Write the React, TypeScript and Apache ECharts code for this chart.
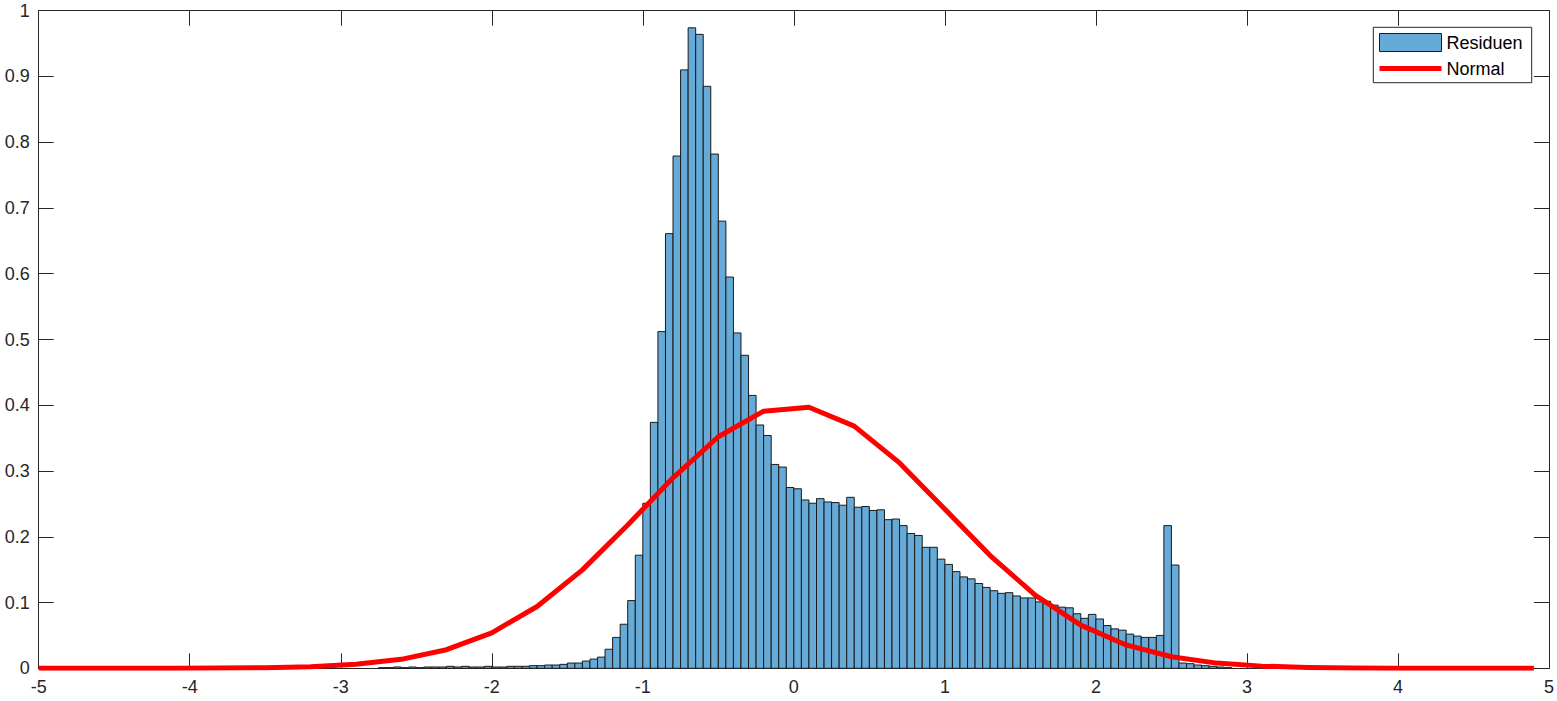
import React, { useEffect, useRef } from "react";
import * as echarts from "echarts";

// Histogram of residuals (probability density), bin width 0.05
const histStart = -2.75;
const binWidth = 0.05;
const histValues = [
  0.001, 0.001, 0.002, 0.001, 0.002, 0.001, 0.002, 0.002, 0.002, 0.003,
  0.002, 0.003, 0.002, 0.002, 0.003, 0.002, 0.002, 0.003, 0.003, 0.003,
  0.004, 0.004, 0.005, 0.005, 0.006, 0.008, 0.008, 0.011, 0.014, 0.017,
  0.029, 0.047, 0.067, 0.103, 0.172, 0.251, 0.374, 0.512, 0.661, 0.779,
  0.910, 0.974, 0.964, 0.885, 0.782, 0.680, 0.595, 0.510, 0.476, 0.415,
  0.370, 0.354, 0.310, 0.306, 0.275, 0.273, 0.256, 0.251, 0.258, 0.253,
  0.252, 0.248, 0.260, 0.245, 0.246, 0.240, 0.241, 0.226, 0.227, 0.217,
  0.205, 0.202, 0.184, 0.184, 0.166, 0.158, 0.147, 0.139, 0.136, 0.129,
  0.123, 0.118, 0.114, 0.115, 0.110, 0.107, 0.107, 0.101, 0.102, 0.096,
  0.093, 0.092, 0.083, 0.076, 0.082, 0.075, 0.065, 0.060, 0.058, 0.052,
  0.049, 0.047, 0.047, 0.050, 0.217, 0.157, 0.008, 0.007, 0.005, 0.004,
  0.003, 0.002, 0.001,
];

// Normal curve points
const normX = [
  -5, -4.7, -4.4, -4.1, -3.8, -3.5, -3.2, -2.9, -2.6, -2.3, -2.0, -1.7,
  -1.4, -1.1, -0.8, -0.5, -0.2, 0.1, 0.4, 0.7, 1.0, 1.3, 1.6, 1.9, 2.2,
  2.5, 2.8, 3.1, 3.4, 3.7, 4.0, 4.3, 4.6, 4.9,
];
const normY = [
  0.0, 0.0, 0.0, 0.0001, 0.0003, 0.0009, 0.0024, 0.006, 0.0136, 0.0283,
  0.054, 0.094, 0.1497, 0.2179, 0.2897, 0.3521, 0.391, 0.397, 0.3683,
  0.3123, 0.242, 0.1714, 0.1109, 0.0656, 0.0355, 0.0175, 0.0079, 0.0033,
  0.0012, 0.0004, 0.0001, 0.0, 0.0, 0.0,
];

const legendNames = ["Residuen", "Normal"];

const FONT = '"Liberation Sans", Arial, Helvetica, sans-serif';
const AXIS = "#262626";
const BAR = "#66AAD7";

export default function App() {
  const ref = useRef<HTMLDivElement>(null);
  useEffect(() => {
    if (!ref.current) return;
    const chart = echarts.init(ref.current, null, { renderer: "svg" });
    const histData = histValues.map((v, i) => [
      Math.round((histStart + i * binWidth) * 1000) / 1000,
      v,
    ]);
    const normData = normX.map((x, i) => [x, normY[i]]);

    const axisCommon = {
      axisLine: { show: true, onZero: false, lineStyle: { color: AXIS, width: 1 } },
      axisTick: { show: true, inside: true, length: 15, lineStyle: { color: AXIS, width: 1 } },
      splitLine: { show: false },
    };

    chart.setOption({
      animation: false,
      backgroundColor: "#ffffff",
      grid: { left: 38.7, right: 7.7, top: 10.7, bottom: 32.7, show: false },
      xAxis: [
        {
          type: "value",
          min: -5,
          max: 5,
          interval: 1,
          position: "bottom",
          ...axisCommon,
          axisLabel: { show: true, color: AXIS, fontSize: 18, fontFamily: FONT, margin: 10 },
        },
        {
          type: "value",
          min: -5,
          max: 5,
          interval: 1,
          position: "top",
          ...axisCommon,
          axisLabel: { show: false },
        },
      ],
      yAxis: [
        {
          type: "value",
          min: 0,
          max: 1,
          interval: 0.1,
          position: "left",
          ...axisCommon,
          axisLabel: {
            show: true,
            color: AXIS,
            fontSize: 18,
            fontFamily: FONT,
            margin: 9,
            formatter: (v: number) => String(Math.round(v * 10) / 10),
          },
        },
        {
          type: "value",
          min: 0,
          max: 1,
          interval: 0.1,
          position: "right",
          ...axisCommon,
          axisLabel: { show: false },
        },
      ],
      series: [
        {
          name: legendNames[0],
          type: "custom",
          xAxisIndex: 0,
          yAxisIndex: 0,
          data: histData,
          encode: { x: 0, y: 1 },
          z: 2,
          renderItem: (params: any, api: any) => {
            const x0 = api.value(0);
            const h = api.value(1);
            const p0 = api.coord([x0, h]);
            const p1 = api.coord([x0 + binWidth, 0]);
            return {
              type: "rect",
              shape: { x: p0[0], y: p0[1], width: p1[0] - p0[0], height: p1[1] - p0[1] },
              style: { fill: BAR, stroke: "#1a1a1a", lineWidth: 1 },
            };
          },
        },
        {
          name: legendNames[1],
          type: "line",
          xAxisIndex: 0,
          yAxisIndex: 0,
          data: normData,
          showSymbol: false,
          symbol: "none",
          z: 5,
          lineStyle: { color: "#ff0000", width: 5, join: "round" },
        },
      ],
      graphic: [
        {
          type: "rect",
          z: 100,
          shape: { x: 1373.3, y: 27.3, width: 158.4, height: 55.4 },
          style: { fill: "#ffffff", stroke: AXIS, lineWidth: 1 },
        },
        {
          type: "rect",
          z: 101,
          shape: { x: 1379.5, y: 33.5, width: 62, height: 18 },
          style: { fill: BAR, stroke: "#1a1a1a", lineWidth: 1 },
        },
        {
          type: "text",
          z: 101,
          x: 1446.5,
          y: 43,
          style: {
            text: legendNames[0],
            fill: "#000000",
            font: `18px ${FONT}`,
            verticalAlign: "middle",
            align: "left",
          },
        },
        {
          type: "line",
          z: 101,
          shape: { x1: 1379.5, y1: 68.5, x2: 1441.5, y2: 68.5 },
          style: { stroke: "#ff0000", lineWidth: 5 },
        },
        {
          type: "text",
          z: 101,
          x: 1446.5,
          y: 69,
          style: {
            text: legendNames[1],
            fill: "#000000",
            font: `18px ${FONT}`,
            verticalAlign: "middle",
            align: "left",
          },
        },
      ],
    });
    return () => chart.dispose();
  }, []);

  return (
    <div
      ref={ref}
      style={{ position: "fixed", left: 0, top: 0, width: 1557, height: 701, background: "#fff" }}
    />
  );
}
